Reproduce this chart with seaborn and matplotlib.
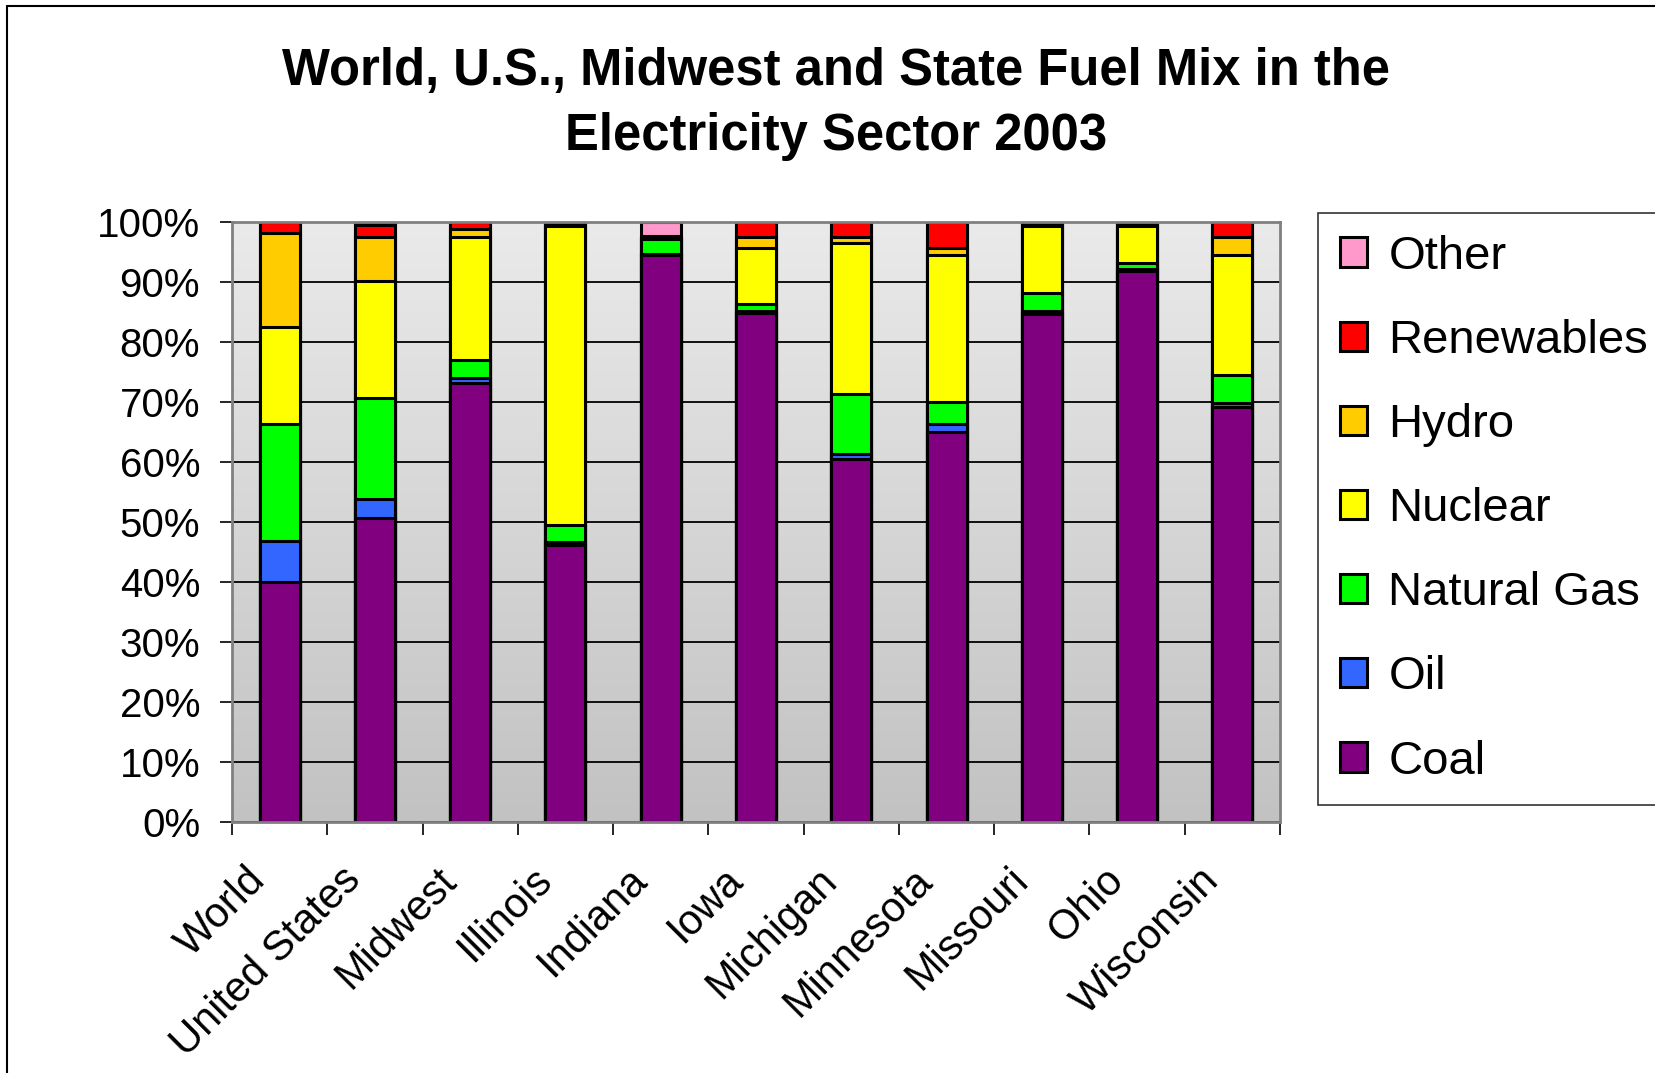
import numpy as np
import matplotlib
matplotlib.use("Agg")
import matplotlib.pyplot as plt
from matplotlib.patches import Patch
from matplotlib.lines import Line2D
from matplotlib.transforms import ScaledTranslation
import seaborn as sns

# Regions shown along the x axis
regions = ["World", "United States", "Midwest", "Illinois", "Indiana", "Iowa",
           "Michigan", "Minnesota", "Missouri", "Ohio", "Wisconsin"]

# Share of electricity generation by fuel (percent), 2003
coal = [39.9, 50.7, 73.1, 46.1, 94.4, 84.8, 60.5, 65.0, 84.7, 91.8, 69.2]
oil = [6.9, 3.1, 0.8, 0.6, 0.2, 0.3, 0.8, 1.3, 0.5, 0.3, 0.6]
natural_gas = [19.5, 16.9, 3.0, 2.7, 2.5, 1.2, 10.0, 3.7, 3.0, 1.1, 4.6]
nuclear = [16.2, 19.4, 20.6, 49.9, 0.0, 9.4, 25.1, 24.4, 11.1, 6.1, 20.0]
hydro = [15.6, 7.4, 1.3, 0.1, 0.2, 1.8, 1.1, 1.3, 0.3, 0.3, 3.1]
renewables = [1.9, 1.9, 1.2, 0.6, 0.3, 2.5, 2.5, 4.3, 0.4, 0.4, 2.5]
other = [0.0, 0.6, 0.0, 0.0, 2.4, 0.0, 0.0, 0.0, 0.0, 0.0, 0.0]

fuels = ["Coal", "Oil", "Natural Gas", "Nuclear", "Hydro", "Renewables", "Other"]
series = [coal, oil, natural_gas, nuclear, hydro, renewables, other]
colors = ["#800080", "#3366FF", "#00FF00", "#FFFF00", "#FFCC00", "#FF0000", "#FF99CC"]

sns.set_theme(style="white")
plt.rcParams["font.family"] = ["Liberation Sans", "DejaVu Sans"]
plt.rcParams["text.color"] = "black"
plt.rcParams["xtick.color"] = "black"
plt.rcParams["ytick.color"] = "black"
plt.rcParams["axes.labelcolor"] = "black"

W, H = 1656, 1073
fig = plt.figure(figsize=(W / 100, H / 100), dpi=100)
fig.patch.set_facecolor("white")

left, right, top, bottom = 232, 1280, 221.7, 821.7
ax = fig.add_axes([left / W, 1 - bottom / H, (right - left) / W, (bottom - top) / H])

# Gray gradient plot background, light at the top
grad = np.linspace(0, 1, 256).reshape(-1, 1)
cmap = matplotlib.colors.LinearSegmentedColormap.from_list("bg", ["#EAEAEA", "#C2C2C2"])
ax.imshow(grad, extent=(-0.5, len(regions) - 0.5, 0, 100), aspect="auto",
          cmap=cmap, zorder=0, origin="upper")

# Stacked bars: draw cumulative totals from the top layer down
cum = np.cumsum(np.array(series), axis=0)
for i in range(len(fuels) - 1, -1, -1):
    sns.barplot(x=regions, y=cum[i], order=regions, color=colors[i], saturation=1,
                width=0.42, edgecolor="black", linewidth=2.2, errorbar=None,
                ax=ax, zorder=2)

ax.set_xlim(-0.5, len(regions) - 0.5)
ax.set_ylim(0, 100)
ax.set_axisbelow(True)
ax.yaxis.grid(True, color="black", linewidth=1.3, zorder=1)
ax.set_xlabel("")
ax.set_ylabel("")

yt = np.arange(0, 101, 10)
ax.set_yticks(yt)
ax.set_yticklabels([f"{v}%" for v in yt], fontsize=29)
ax.tick_params(axis="y", which="major", left=True, length=9, width=1.2,
               color="black", pad=14, direction="out", labelcolor="black")

ax.set_xticks(range(len(regions)))
ax.set_xticklabels(regions, fontsize=30, rotation=45, ha="right", va="center",
                   rotation_mode="anchor")
ax.tick_params(axis="x", which="major", length=0, pad=40, labelcolor="black")
shift = ScaledTranslation(-20 / 100, 3 / 100, fig.dpi_scale_trans)
for lab in ax.get_xticklabels():
    lab.set_transform(lab.get_transform() + shift)
ax.set_xticks(np.arange(-0.5, len(regions), 1.0), minor=True)
ax.tick_params(axis="x", which="minor", bottom=True, length=9, width=1.2,
               color="black", direction="out")

for s in ax.spines.values():
    s.set_color("#808080")
    s.set_linewidth(2.0)
    s.set_visible(True)

fig.text(836 / W, 1 - 104 / H,
         "World, U.S., Midwest and State Fuel Mix in the\nElectricity Sector 2003",
         ha="center", va="center", fontsize=36.5, fontweight="bold",
         linespacing=1.4, color="black")

handles = [Patch(facecolor=colors[i], edgecolor="black", linewidth=2.2, label=fuels[i])
           for i in range(len(fuels) - 1, -1, -1)]
leg = fig.legend(handles=handles, loc="upper left",
                 bbox_to_anchor=(1318 / W, 1 - 213 / H), fontsize=34,
                 frameon=True, fancybox=False, edgecolor="black",
                 handlelength=0.58, handleheight=0.58, handletextpad=0.45,
                 labelspacing=0.85, borderpad=0.46, borderaxespad=0)
leg.get_frame().set_linewidth(1.2)
for t in leg.get_texts():
    t.set_color("black")

# Chart area outline
fig.add_artist(Line2D([7 / W, 7 / W], [0, 1 - 6 / H], color="black", linewidth=1.5))
fig.add_artist(Line2D([7 / W, 1], [1 - 6 / H, 1 - 6 / H], color="black", linewidth=1.5))

fig.savefig("out.png", dpi=100)
